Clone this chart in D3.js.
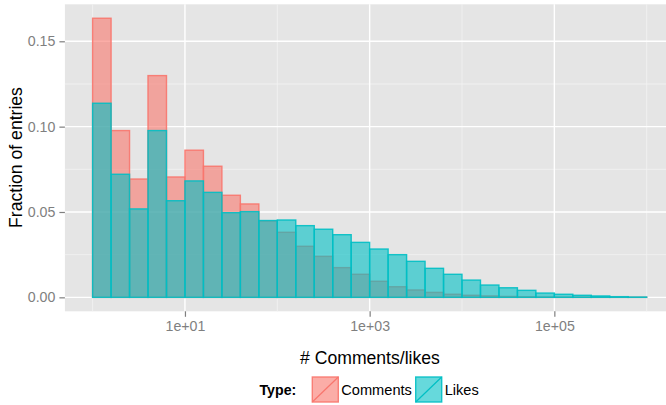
<!DOCTYPE html>
<html>
<head>
<meta charset="utf-8">
<script src="https://cdn.jsdelivr.net/npm/d3@7"></script>
<style>
  html, body { margin: 0; padding: 0; background: #ffffff; }
  svg { display: block; font-family: "Liberation Sans", Arial, Helvetica, sans-serif; }
</style>
</head>
<body>
<svg id="chart" width="666" height="405"></svg>
<script>
// ---- data ----
const binLog10Start = [0.0,0.2,0.4,0.6,0.8,1.0,1.2,1.4,1.6,1.8,2.0,2.2,2.4,2.6,2.8,3.0,3.2,3.4,3.6,3.8,4.0,4.2,4.4,4.6,4.8,5.0,5.2,5.4,5.6,5.8];
const binLog10Width = 0.2;
const types = ["Comments", "Likes"];
const comments = [0.1635,0.0977,0.0693,0.1299,0.0705,0.0862,0.0768,0.0598,0.0547,0.0447,0.0381,0.0299,0.0240,0.0174,0.0135,0.0094,0.0062,0.0043,0.0029,0.0018,0.0012,0.0008,0.0005,0.0003,0.0002,0.0001,0.0001,0.00005,0.00003,0.00002];
const likes = [0.1137,0.0721,0.0518,0.0977,0.0566,0.0682,0.0615,0.0496,0.0502,0.0450,0.0453,0.0420,0.0399,0.0367,0.0322,0.0283,0.0250,0.0211,0.0170,0.0135,0.0101,0.0072,0.0056,0.0041,0.0025,0.0018,0.0012,0.0008,0.0004,0.0002];
const xTicks = [1e1, 1e3, 1e5];
const xMinor = [1e0, 1e2, 1e4, 1e6];
const yTicks = [0.00, 0.05, 0.10, 0.15];
const yMinor = [0.025, 0.075, 0.125];
const colors = {Comments: "#F8766D", Likes: "#00BFC4"};

// ---- layout ----
const svg = d3.select("#chart");
const panel = {left: 64.9, right: 674.4, top: 4.3, bottom: 311.3};

const x = d3.scaleLog()
  .domain([Math.pow(10, -0.3), Math.pow(10, 6.3)])
  .range([panel.left, panel.right]);
const y = d3.scaleLinear()
  .domain([-0.008175, 0.171675])
  .range([panel.bottom, panel.top]);

// panel background
svg.append("rect")
  .attr("x", panel.left).attr("y", panel.top)
  .attr("width", panel.right - panel.left).attr("height", panel.bottom - panel.top)
  .attr("fill", "#E5E5E5");

const grid = svg.append("g");
// minor grid
grid.selectAll(".ymin").data(yMinor).enter().append("line")
  .attr("x1", panel.left).attr("x2", panel.right)
  .attr("y1", d => y(d)).attr("y2", d => y(d))
  .attr("stroke", "#F2F2F2").attr("stroke-width", 0.8);
grid.selectAll(".xmin").data(xMinor).enter().append("line")
  .attr("y1", panel.top).attr("y2", panel.bottom)
  .attr("x1", d => x(d)).attr("x2", d => x(d))
  .attr("stroke", "#F2F2F2").attr("stroke-width", 0.8);
// major grid
grid.selectAll(".ymaj").data(yTicks).enter().append("line")
  .attr("x1", panel.left).attr("x2", panel.right)
  .attr("y1", d => y(d)).attr("y2", d => y(d))
  .attr("stroke", "#FFFFFF").attr("stroke-width", 1.4);
grid.selectAll(".xmaj").data(xTicks).enter().append("line")
  .attr("y1", panel.top).attr("y2", panel.bottom)
  .attr("x1", d => x(d)).attr("x2", d => x(d))
  .attr("stroke", "#FFFFFF").attr("stroke-width", 1.4);

// bars
const series = [
  {name: "Comments", values: comments},
  {name: "Likes", values: likes}
];
series.forEach(s => {
  svg.append("g").selectAll("rect")
    .data(s.values.map((v, i) => ({v, lo: binLog10Start[i]})))
    .enter().append("rect")
    .attr("x", d => x(Math.pow(10, d.lo)))
    .attr("width", d => x(Math.pow(10, d.lo + binLog10Width)) - x(Math.pow(10, d.lo)))
    .attr("y", d => y(d.v))
    .attr("height", d => y(0) - y(d.v))
    .attr("fill", colors[s.name]).attr("fill-opacity", 0.6)
    .attr("stroke", colors[s.name]).attr("stroke-opacity", 0.9)
    .attr("stroke-width", 1.4);
});

// axes
const tickColor = "#7F7F7F";
const xAxis = d3.axisBottom(x).tickValues(xTicks)
  .tickFormat(d => {
    const e = Math.round(Math.log10(d));
    return "1e+" + String(e).padStart(2, "0");
  })
  .tickSize(5.5).tickPadding(4);
const gx = svg.append("g").attr("transform", `translate(0,${panel.bottom})`).call(xAxis);
gx.select(".domain").remove();
gx.selectAll(".tick line").attr("stroke", tickColor).attr("stroke-width", 1.2);
gx.selectAll(".tick text").attr("fill", tickColor).attr("font-size", 14.2)
  .attr("font-family", "Liberation Sans, Arial, sans-serif");

const yAxis = d3.axisLeft(y).tickValues(yTicks)
  .tickFormat(d3.format(".2f"))
  .tickSize(5.5).tickPadding(4);
const gy = svg.append("g").attr("transform", `translate(${panel.left},0)`).call(yAxis);
gy.select(".domain").remove();
gy.selectAll(".tick line").attr("stroke", tickColor).attr("stroke-width", 1.2);
gy.selectAll(".tick text").attr("fill", tickColor).attr("font-size", 14.2)
  .attr("font-family", "Liberation Sans, Arial, sans-serif");

// axis titles
svg.append("text")
  .attr("x", 370).attr("y", 363.5)
  .attr("text-anchor", "middle").attr("font-size", 17.6).attr("fill", "#000")
  .text("# Comments/likes");
svg.append("text")
  .attr("transform", "translate(21.5,157.5) rotate(-90)")
  .attr("text-anchor", "middle").attr("font-size", 17.6).attr("fill", "#000")
  .text("Fraction of entries");

// legend
const leg = svg.append("g");
leg.append("text").attr("x", 259.5).attr("y", 395)
  .attr("font-size", 14.2).attr("font-weight", "bold").attr("fill", "#000")
  .text("Type:");
const keyX = {Comments: 312.3, Likes: 415.7};
types.forEach(t => {
  const kx = keyX[t], ky = 377, kw = 26, kh = 25;
  leg.append("rect").attr("x", kx).attr("y", ky).attr("width", kw).attr("height", kh)
    .attr("fill", colors[t]).attr("fill-opacity", 0.6)
    .attr("stroke", colors[t]).attr("stroke-opacity", 0.9).attr("stroke-width", 1.4);
  leg.append("line").attr("x1", kx).attr("y1", ky + kh).attr("x2", kx + kw).attr("y2", ky)
    .attr("stroke", colors[t]).attr("stroke-width", 1.2);
  leg.append("text").attr("x", kx + kw + 3).attr("y", 395)
    .attr("font-size", 14.6).attr("fill", "#000")
    .text(t);
});
</script>
</body>
</html>
